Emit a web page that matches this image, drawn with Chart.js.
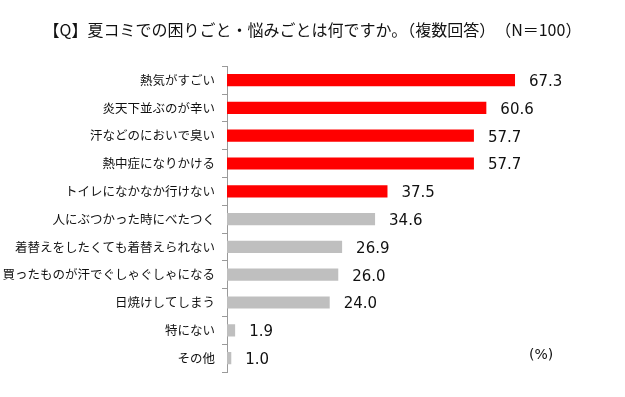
<!DOCTYPE html>
<html>
<head>
<meta charset="utf-8">
<script src="https://cdn.jsdelivr.net/npm/chart.js@4"></script>
<style>
  html, body { margin: 0; padding: 0; background: #fff; }
  #wrap { width: 625px; height: 397px; position: relative; }
</style>
</head>
<body>
<div id="wrap"><canvas id="graficaBarras"></canvas></div>
<script>
// datos del gráfico
const categorias = [
  '熱気がすごい',
  '炎天下並ぶのが辛い',
  '汗などのにおいで臭い',
  '熱中症になりかける',
  'トイレになかなか行けない',
  '人にぶつかった時にべたつく',
  '着替えをしたくても着替えられない',
  '買ったものが汗でぐしゃぐしゃになる',
  '日焼けしてしまう',
  '特にない',
  'その他'
];
const valores = [67.3, 60.6, 57.7, 57.7, 37.5, 34.6, 26.9, 26.0, 24.0, 1.9, 1.0];
const destacados = 5; // las primeras 5 en rojo
const titulo = '【Q】夏コミでの困りごと・悩みごとは何ですか。（複数回答）　（N＝100）';
const unidad = '(%)';

const colores = valores.map((v, i) => i < destacados ? '#ff0000' : '#bfbfbf');

// plugin para las etiquetas de valor y la unidad
const etiquetasValor = {
  id: 'etiquetasValor',
  afterDatasetsDraw(chart) {
    const ctx = chart.ctx;
    const meta = chart.getDatasetMeta(0);
    ctx.save();
    ctx.font = '15px "DejaVu Sans"';
    ctx.fillStyle = '#111';
    ctx.textAlign = 'left';
    ctx.textBaseline = 'middle';
    meta.data.forEach((bar, i) => {
      ctx.fillText(valores[i].toFixed(1), bar.x + 14, bar.y + 2);
    });
    ctx.font = '14px "DejaVu Sans"';
    ctx.fillText(unidad, 529, 355);
    ctx.restore();
  }
};

const ctxBarras = document.getElementById('graficaBarras');

if (ctxBarras) {
  new Chart(ctxBarras, {
    type: 'bar',
    data: {
      labels: categorias,
      datasets: [{
        data: valores,
        backgroundColor: colores,
        barPercentage: 0.44,
        categoryPercentage: 1.0
      }]
    },
    options: {
      indexAxis: 'y',
      responsive: true,
      maintainAspectRatio: false,
      animation: false,
      layout: {
        padding: { top: 0, bottom: 25, left: 0, right: 0 }
      },
      plugins: {
        legend: { display: false },
        tooltip: { enabled: false },
        title: {
          display: true,
          text: titulo,
          color: '#111',
          font: { family: '"Noto Sans CJK JP"', size: 16, weight: 'normal' },
          padding: { top: 20, bottom: 27 }
        }
      },
      scales: {
        x: {
          display: false,
          min: 0,
          max: 93
        },
        y: {
          afterFit(scale) { scale.width = 227; },
          border: { display: true, color: '#9a9a9a', width: 1 },
          grid: {
            offset: true,
            drawOnChartArea: false,
            drawTicks: true,
            tickLength: 5,
            color: '#9a9a9a'
          },
          ticks: {
            color: '#111',
            padding: 7,
            font: { family: '"Noto Sans CJK JP"', size: 12.5 }
          }
        }
      }
    },
    plugins: [etiquetasValor]
  });
}
</script>
</body>
</html>
